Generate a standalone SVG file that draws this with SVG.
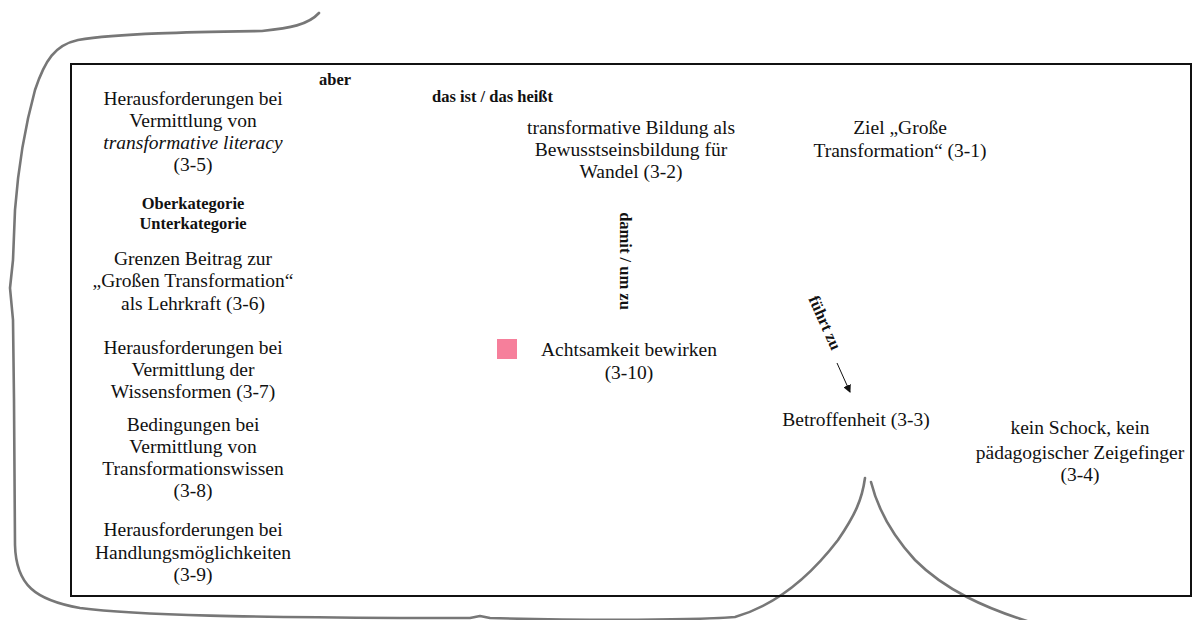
<svg xmlns="http://www.w3.org/2000/svg" width="1201" height="620" viewBox="0 0 1201 620">
<style>
.t{font-family:"Liberation Serif","Times New Roman",serif;font-size:19.5px;fill:#111;text-anchor:middle}
.i{font-style:italic}
.b{font-family:"Liberation Serif","Times New Roman",serif;font-size:16.5px;font-weight:bold;fill:#111}
.c{text-anchor:middle}
.brace{fill:none;stroke:#777;stroke-width:2.6;stroke-linecap:round;stroke-linejoin:round}
</style>
<defs>
<marker id="ah" markerWidth="8" markerHeight="8" refX="7" refY="4" orient="auto" markerUnits="userSpaceOnUse">
<path d="M0,0 L8,4 L0,8 z" fill="#111"/>
</marker>
</defs>
<rect width="1201" height="620" fill="#fff"/>
<g id="bracket">
<path class="brace" d="M319,13 C308,25 290,28 262,31 C200,32 120,33 78,40 C55,45 45,60 35,90 C24,130 18,170 15,210 L13,260 L10,288 L13,320 L14,400 L15,545 C16,585 35,600 80,608 C140,616 260,617 400,618 L470,618 L480,616 L490,618 C560,620 680,621 735,617 C780,604 815,570 838,540 C855,515 862,500 865,478"/>
<path class="brace" d="M871,482 C878,510 892,535 915,560 C945,590 985,608 1030,622"/>
</g>
<rect id="frame" x="71" y="64" width="1120" height="532" fill="none" stroke="#111" stroke-width="2"/>
<g id="n3-5"><text class="t" x="193" y="105">Herausforderungen bei</text><text class="t" x="193" y="127">Vermittlung von</text><text class="t i" x="193" y="149">transformative literacy</text><text class="t" x="193" y="171">(3-5)</text></g>
<g id="legend"><text class="b c" x="193" y="209">Oberkategorie</text><text class="b c" x="193" y="229">Unterkategorie</text></g>
<g id="n3-6"><text class="t" x="193" y="265">Grenzen Beitrag zur</text><text class="t" x="193" y="287">„Großen Transformation“</text><text class="t" x="193" y="310">als Lehrkraft (3-6)</text></g>
<g id="n3-7"><text class="t" x="193" y="354">Herausforderungen bei</text><text class="t" x="193" y="376">Vermittlung der</text><text class="t" x="193" y="398">Wissensformen (3-7)</text></g>
<g id="n3-8"><text class="t" x="193" y="431">Bedingungen bei</text><text class="t" x="193" y="453">Vermittlung von</text><text class="t" x="193" y="475">Transformationswissen</text><text class="t" x="193" y="497">(3-8)</text></g>
<g id="n3-9"><text class="t" x="193" y="536">Herausforderungen bei</text><text class="t" x="193" y="559">Handlungsmöglichkeiten</text><text class="t" x="193" y="581">(3-9)</text></g>
<g id="n3-2"><text class="t" x="631" y="134">transformative Bildung als</text><text class="t" x="631" y="156">Bewusstseinsbildung für</text><text class="t" x="631" y="178">Wandel (3-2)</text></g>
<g id="n3-1"><text class="t" x="900" y="134">Ziel „Große</text><text class="t" x="900" y="157">Transformation“ (3-1)</text></g>
<g id="n3-10"><rect x="497" y="339" width="20" height="20" fill="#F67F9B"/><text class="t" x="629" y="356">Achtsamkeit bewirken</text><text class="t" x="629" y="379">(3-10)</text></g>
<g id="n3-3"><text class="t" x="856" y="426">Betroffenheit (3-3)</text></g>
<g id="n3-4"><text class="t" x="1080" y="434">kein Schock, kein</text><text class="t" x="1080" y="459">pädagogischer Zeigefinger</text><text class="t" x="1080" y="481">(3-4)</text></g>
<g id="connectors">
<text class="b" x="319" y="85">aber</text>
<text class="b" x="432" y="102">das ist / das heißt</text>
<text class="b c" transform="translate(620,261) rotate(90)">damit / um zu</text>
<text class="b c" transform="translate(820,325) rotate(66)">führt zu</text>
<line x1="837" y1="363" x2="850" y2="392" stroke="#111" stroke-width="1" marker-end="url(#ah)"/>
</g>
</svg>
